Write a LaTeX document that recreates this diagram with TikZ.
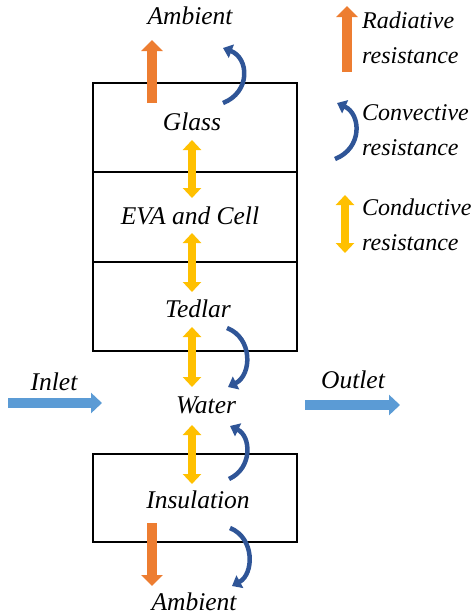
\documentclass[tikz,border=0pt]{standalone}
\usepackage{fontspec}
\newfontfamily\lserif{Liberation Serif}
\usetikzlibrary{positioning,arrows.meta}
\definecolor{radorange}{RGB}{237,125,49}
\definecolor{convblue}{RGB}{47,85,151}
\definecolor{condyellow}{RGB}{255,192,0}
\definecolor{flowblue}{RGB}{91,155,213}

\begin{document}
\begin{tikzpicture}[
  x=1pt,y=-1pt,
  every node/.style={font=\lserif\fontsize{25.5}{35}\selectfont\itshape},
  layer/.style={draw=black,line width=2pt,minimum width=204pt,inner sep=0pt,outer sep=0pt},
  txt/.style={anchor=base},
  legend/.style={anchor=base west,align=left,inner xsep=0pt,
    font=\lserif\fontsize{24}{35}\selectfont\itshape},
  rad/.style={draw=radorange,line width=10pt,-{Triangle[length=11pt,width=21pt]}},
  conv/.style={draw=convblue,line width=4.5pt,-{Triangle[length=9pt,width=14pt]}},
  cond/.style={draw=condyellow,line width=8pt,
    {Triangle[length=10pt,width=18pt]}-{Triangle[length=10pt,width=18pt]}},
  flow/.style={draw=flowblue,line width=10pt,-{Triangle[length=11pt,width=20pt]}}
]
\useasboundingbox (0,0) rectangle (476,616);

% panel layers
\node[layer,minimum height=89pt] (glass) at (195,127.5) {};
\node[layer,minimum height=90pt,below=0pt of glass] (eva) {};
\node[layer,minimum height=89pt,below=0pt of eva] (tedlar) {};
\node[layer,minimum height=88pt] (insul) at (195,498) {};

% labels
\node[txt] (ambtop) at (190,24) {Ambient};
\node[txt] (glasslbl) at (192,130) {Glass};
\node[txt] (evalbl) at (190,224) {EVA and Cell};
\node[txt] (tedlbl) at (198,317) {Tedlar};
\node[txt] (water) at (206,413) {Water};
\node[txt] (insullbl) at (198,508) {Insulation};
\node[txt] (ambbot) at (194,610) {Ambient};
\node[txt] (inlet) at (54,390) {Inlet};
\node[txt] (outlet) at (353,388) {Outlet};

% radiative
\draw[rad] (152,103) -- (152,40);
\draw[rad] (152,523) -- (152,586);

% convective
\draw[conv] (223,103) .. controls (251,92) and (249,58) .. (223,48);
\draw[conv] (227,328) .. controls (253,338) and (252,375) .. (228,387);
\draw[conv] (229,479) .. controls (253,468) and (251,436) .. (230,426);
\draw[conv] (230,528) .. controls (255,538) and (254,574) .. (232,586);

% conductive
\foreach \a/\b in {140/198,233/292,327/387,425/484}
  \draw[cond] (192,\a) -- (192,\b);

% water flow
\draw[flow] (8,403) -- (102,403);
\draw[flow] (305,405) -- (400,405);

% legend
\draw[rad] (347,72) -- (347,6);
\node[legend] (radleg) at (362,63) {Radiative\\resistance};
\draw[conv] (335,159) .. controls (363,148) and (361,114) .. (337,103);
\node[legend] (convleg) at (362,155) {Convective\\resistance};
\draw[cond] (345,195) -- (345,253);
\node[legend] (condleg) at (362,250) {Conductive\\resistance};
\end{tikzpicture}
\end{document}
